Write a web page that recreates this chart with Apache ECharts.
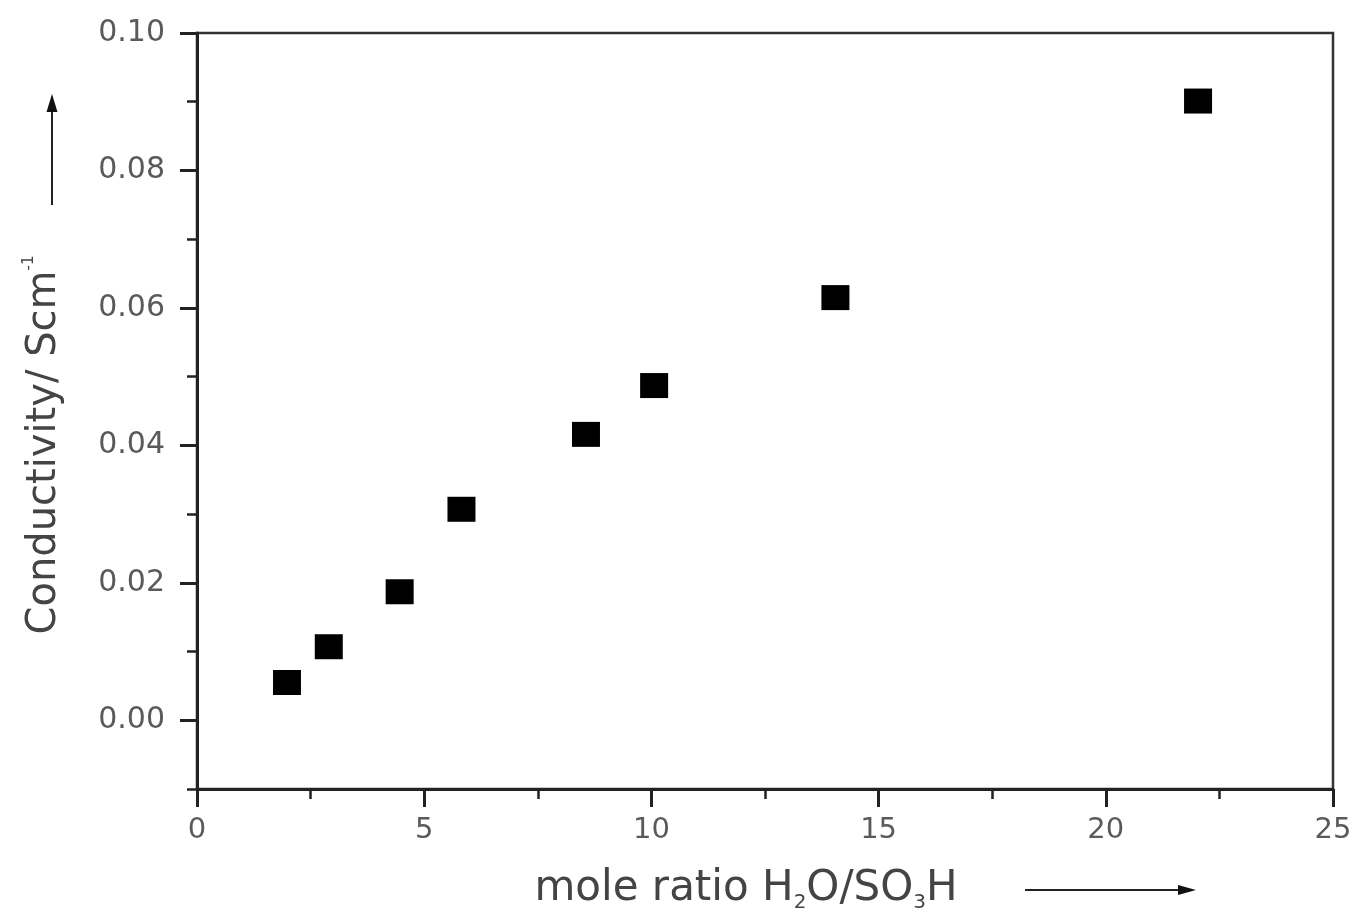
<!DOCTYPE html>
<html>
<head>
<meta charset="utf-8">
<script src="https://cdn.jsdelivr.net/npm/echarts@6/dist/echarts.min.js"></script>
<style>
html,body{margin:0;padding:0;background:#fff;}
#chart{width:1356px;height:918px;}
</style>
</head>
<body>
<div id="chart"></div>
<script>
const moleRatio = [1.98, 2.9, 4.46, 5.82, 8.56, 10.06, 14.05, 22.03];
const conductivity = [0.0055, 0.0107, 0.0187, 0.0307, 0.0416, 0.0487, 0.0615, 0.0901];
const yMajorTicks = [0, 0.02, 0.04, 0.06, 0.08, 0.10];
const yMinorTicks = [-0.01, 0.01, 0.03, 0.05, 0.07, 0.09];

const points = moleRatio.map((x, i) => [x, conductivity[i]]);
const FONT = '"DejaVu Sans", sans-serif';
const LABEL_COLOR = '#5a5a5a';
const TITLE_COLOR = '#444';

const chart = echarts.init(document.getElementById('chart'));
chart.setOption({
  animation: false,
  backgroundColor: '#fff',
  grid: {left: 197, right: 23, top: 33, bottom: 128, show: true, borderColor: '#333', borderWidth: 2.5},
  xAxis: [{
    type: 'value', min: 0, max: 25, interval: 5,
    axisLine: {show: true, onZero: false, lineStyle: {color: '#222', width: 3}},
    axisTick: {show: true, inside: false, length: 18, lineStyle: {color: '#222', width: 3}},
    minorTick: {show: true, splitNumber: 2, length: 10, lineStyle: {color: '#222', width: 2.5}},
    splitLine: {show: false},
    axisLabel: {margin: 27, fontSize: 29, color: LABEL_COLOR, fontFamily: FONT},
    name: '{t|mole ratio H}{s|2}{t|O/SO}{s|3}{t|H}',
    nameLocation: 'middle', nameGap: 76,
    nameTextStyle: {
      padding: [0, 38, 0, 0],
      rich: {
        t: {fontSize: 42, color: TITLE_COLOR, fontFamily: FONT},
        s: {fontSize: 20, color: TITLE_COLOR, fontFamily: FONT, padding: [28, 0, 0, 0]}
      }
    }
  }],
  yAxis: [{
    type: 'value', min: -0.01, max: 0.10,
    axisLine: {show: true, onZero: false, lineStyle: {color: '#222', width: 3}},
    axisTick: {show: true, inside: false, length: 17, customValues: yMajorTicks, lineStyle: {color: '#222', width: 3}},
    splitLine: {show: false},
    axisLabel: {
      margin: 32, fontSize: 30, color: LABEL_COLOR, fontFamily: FONT,
      customValues: yMajorTicks,
      formatter: v => v.toFixed(2)
    },
    name: '{t|Conductivity/ Scm}{p|-1}',
    nameLocation: 'middle', nameRotate: 90, nameGap: 130,
    nameTextStyle: {
      padding: [0, 68, 0, 0],
      rich: {
        t: {fontSize: 40, color: TITLE_COLOR, fontFamily: FONT},
        p: {fontSize: 15, color: TITLE_COLOR, fontFamily: FONT, padding: [0, 0, 30, 0]}
      }
    }
  }, {
    type: 'value', min: -0.01, max: 0.10, position: 'left',
    axisLine: {show: false},
    axisTick: {show: true, inside: false, length: 10, customValues: yMinorTicks, lineStyle: {color: '#222', width: 2.5}},
    axisLabel: {show: false},
    splitLine: {show: false}
  }],
  series: [{
    type: 'scatter',
    data: points,
    symbol: 'rect',
    symbolSize: [28, 25],
    itemStyle: {color: '#000', opacity: 1}
  }],
  graphic: [
    {type: 'line', shape: {x1: 52, y1: 205, x2: 52, y2: 108}, style: {stroke: '#222', lineWidth: 2}},
    {type: 'polygon', shape: {points: [[52, 94], [46.5, 112], [57.5, 112]]}, style: {fill: '#111'}},
    {type: 'line', shape: {x1: 1025, y1: 890, x2: 1180, y2: 890}, style: {stroke: '#222', lineWidth: 2}},
    {type: 'polygon', shape: {points: [[1196, 890], [1178, 885], [1178, 895]]}, style: {fill: '#111'}}
  ]
});
</script>
</body>
</html>
